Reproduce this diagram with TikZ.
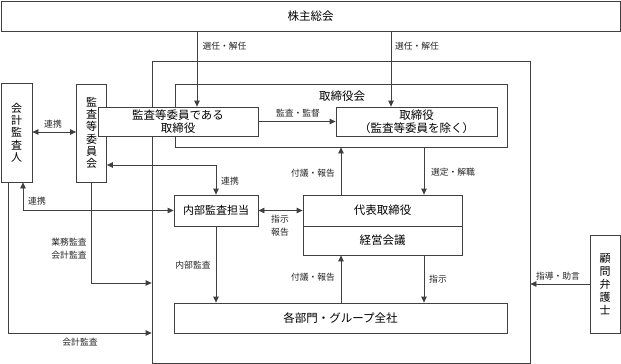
\documentclass[tikz,border=0pt]{standalone}
\usepackage{fontspec}
\setmainfont{Noto Sans CJK JP}
\usetikzlibrary{arrows.meta}
\tikzset{
  box/.style={draw=black!75, line width=0.8pt, fill=white, inner sep=0pt, font=\fontsize{11.5}{13}\selectfont},
  vbox/.style={box, align=center, font=\fontsize{11}{12.3}\selectfont},
  lab/.style={font=\fontsize{8.8}{10}\selectfont, inner sep=0pt, text=black!85},
  ln/.style={draw=black!75, line width=0.8pt},
  arr/.style={ln, -{Triangle[length=6pt,width=5.5pt]}},
  darr/.style={ln, {Triangle[length=6pt,width=5.5pt]}-{Triangle[length=6pt,width=5.5pt]}},
}
\begin{document}
\begin{tikzpicture}[x=1pt,y=-1pt]
\useasboundingbox (0,0) rectangle (621,364);
\fill[white] (0,0) rectangle (621,364);
% boxes
\node[box, minimum width=619pt, minimum height=30pt] (gm) at (310.5,16) {株主総会};
\node[box, minimum width=378pt, minimum height=302pt] (outer) at (341,212) {};
\node[box, minimum width=332pt, minimum height=63pt] (board) at (341,115.5) {};
\node[font=\fontsize{11.5}{13}\selectfont, inner sep=0pt] (boardlab) at (342,96) {取締役会};
\node[vbox, minimum width=30pt, minimum height=98pt] (acm) at (91.5,133) {監\\査\\等\\委\\員\\会};
\node[box, align=center, minimum width=160pt, minimum height=29pt, font=\fontsize{11.5}{12.5}\selectfont] (ac) at (178,121.5) {監査等委員である\\取締役};
\node[box, align=center, minimum width=161pt, minimum height=29pt, font=\fontsize{11.5}{12.5}\selectfont] (dir) at (416.5,121.5) {取締役\\（監査等委員を除く）};
\node[vbox, minimum width=31pt, minimum height=99pt] (auditor) at (16.5,132.5) {会\\計\\監\\査\\人};
\node[box, minimum width=84pt, minimum height=31pt, font=\fontsize{11}{13}\selectfont] (ia) at (216,210.5) {内部監査担当};
\node[box, minimum width=159pt, minimum height=31pt] (ceo) at (382.5,210.5) {代表取締役};
\node[box, minimum width=159pt, minimum height=29pt] (mgmt) at (382.5,240.5) {経営会議};
\node[box, minimum width=333pt, minimum height=30pt] (dept) at (340.5,318) {各部門・グループ全社};
\node[vbox, minimum width=30pt, minimum height=98pt, font=\fontsize{11}{13}\selectfont] (lawyer) at (605,284) {顧\\問\\弁\\護\\士};
% helper coordinates
\coordinate (xa) at (197,0);
\coordinate (xb) at (391,0);
\coordinate (xc) at (341,0);
\coordinate (xd) at (424,0);
\coordinate (xe) at (23,0);
\coordinate (xf) at (8,0);
\coordinate (xg) at (91.5,0);
\coordinate (ya) at (0,132);
\coordinate (yb) at (0,165);
\coordinate (yc) at (0,283);
\coordinate (yd) at (0,333);
\coordinate (ye) at (0,284);
% connectors
\draw[arr] (xa |- gm.south) -- (xa |- ac.north);
\draw[arr] (xb |- gm.south) -- (xb |- dir.north);
\draw[arr] (ac.east) -- (dir.west);
\draw[darr] (auditor.east |- ya) -- (acm.west |- ya);
\draw[darr] (acm.east |- yb) -| (ia.north);
\draw[darr] (xe |- auditor.south) |- (ia.west);
\draw[darr] (ia.east) -- (ceo.west);
\draw[arr] (xc |- ceo.north) -- (xc |- board.south);
\draw[arr] (xd |- board.south) -- (xd |- ceo.north);
\draw[arr] (ia.south) -- (ia.south |- dept.north);
\draw[arr] (xc |- dept.north) -- (xc |- mgmt.south);
\draw[arr] (xd |- mgmt.south) -- (xd |- dept.north);
\draw[arr] (xg |- acm.south) |- (outer.west |- yc);
\draw[arr] (xf |- auditor.south) |- (outer.west |- yd);
\draw[arr] (lawyer.west |- ye) -- (outer.east |- ye);
% labels
\node[lab] (l1) at (224.5,46) {選任・解任};
\node[lab] (l2) at (417,46) {選任・解任};
\node[lab] (l3) at (298,113) {監査・監督};
\node[lab] (l4) at (53,124) {連携};
\node[lab] (l5) at (230,181) {連携};
\node[lab] (l6) at (37,201) {連携};
\node[lab] (l7) at (280,219) {指示};
\node[lab] (l8) at (280,232) {報告};
\node[lab] (l9) at (313,173) {付議・報告};
\node[lab] (l10) at (453,172) {選定・解職};
\node[lab] (l11) at (193,265) {内部監査};
\node[lab] (l12) at (313,277) {付議・報告};
\node[lab] (l13) at (438,279) {指示};
\node[lab] (l14) at (69,242) {業務監査};
\node[lab] (l15) at (69,255) {会計監査};
\node[lab] (l16) at (80,342) {会計監査};
\node[lab] (l17) at (558,276) {指導・助言};
\end{tikzpicture}
\end{document}
